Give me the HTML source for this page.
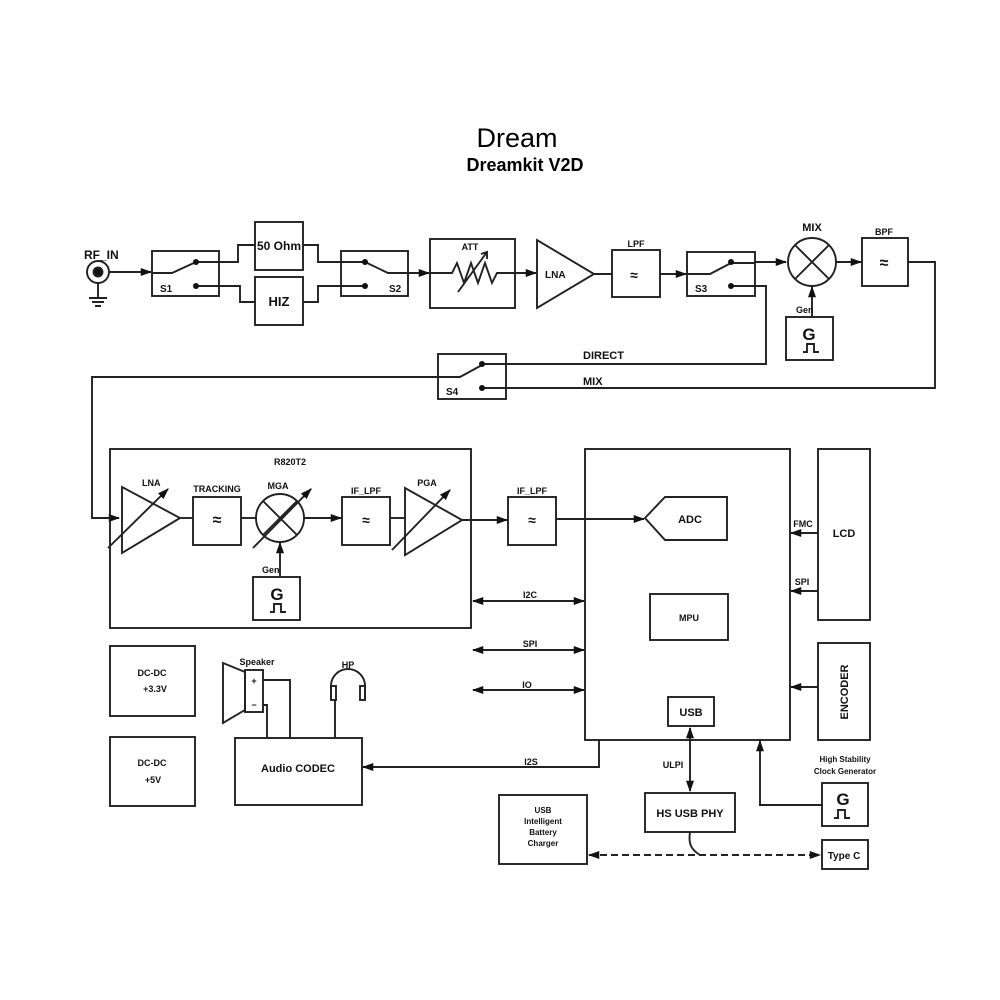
<!DOCTYPE html>
<html><head><meta charset="utf-8"><style>body{margin:0;background:#fff}svg{display:block}</style></head><body>
<svg width="1000" height="1000" viewBox="0 0 1000 1000" xmlns="http://www.w3.org/2000/svg" font-family="Liberation Sans, Arial, sans-serif">
<defs><marker id="a" viewBox="0 0 10 10" refX="9" refY="5" markerWidth="6" markerHeight="6" orient="auto-start-reverse"><path d="M0,1.5 L10,5 L0,8.5z" fill="#111"/></marker></defs>
<rect width="1000" height="1000" fill="#fff"/>
<text x="517" y="147" font-size="27" text-anchor="middle">Dream</text>
<text x="525" y="171" font-size="18" font-weight="bold" text-anchor="middle">Dreamkit V2D</text>
<g stroke="#222" stroke-width="1.9" fill="none">
<circle cx="98" cy="272" r="11"/><circle cx="98" cy="272" r="4.5" fill="#111"/>
<path d="M98,283V298M89,298H107M92,302H104M95,306H101"/>
<path d="M109,272H151" marker-end="url(#a)"/>
<rect x="152" y="251" width="67" height="45"/>
<path d="M152,273H172L196,262M196,262H219M196,286H219"/>
<path d="M219,262H238V245H255M219,286H240V302H255"/>
<rect x="255" y="222" width="48" height="48"/><rect x="255" y="277" width="48" height="48"/>
<path d="M303,245H318V262H341M303,302H318V286H341"/>
<rect x="341" y="251" width="67" height="45"/>
<path d="M341,262H365L388,273H408M341,286H365"/>
<path d="M408,273H429" marker-end="url(#a)"/>
<rect x="430" y="239" width="85" height="69"/>
<path d="M430,273H452L457,263L464,283L471,263L478,283L485,263L492,283L497,273H515M458,292L487,252M481,254L487,252L487,259"/>
<path d="M515,273H536" marker-end="url(#a)"/>
<path d="M537,240L537,308L594,274Z"/>
<path d="M594,274H612"/>
<rect x="612" y="250" width="48" height="47"/>
<path d="M660,274H686" marker-end="url(#a)"/>
<rect x="687" y="252" width="68" height="44"/>
<path d="M687,274H710L731,263M731,263H755M731,286H755"/>
<path d="M755,262H786" marker-end="url(#a)"/>
<circle cx="812" cy="262" r="24"/><path d="M795,245L829,279M829,245L795,279"/>
<path d="M836,262H861" marker-end="url(#a)"/>
<rect x="862" y="238" width="46" height="48"/>
<path d="M908,262H935V388H482"/>
<path d="M755,286H766V364H482"/>
<rect x="786" y="317" width="47" height="43"/>
<path d="M812,317V287" marker-end="url(#a)"/>
<path d="M803,352H807V344H814V352H819"/>
<rect x="438" y="354" width="68" height="45"/>
<path d="M482,364H506M482,388H506M438,377H460L482,365"/>
<path d="M438,377H92V518H119" marker-end="url(#a)"/>
<rect x="110" y="449" width="361" height="179"/>
<path d="M122,487L122,553L180,518Z"/>
<path d="M108,548L168,489" marker-end="url(#a)"/>
<path d="M180,518H193"/>
<rect x="193" y="497" width="48" height="48"/>
<path d="M241,518H256"/>
<circle cx="280" cy="518" r="24"/><path d="M263,501L297,535M297,501L263,535"/>
<path d="M253,548L311,489" marker-end="url(#a)"/>
<rect x="253" y="577" width="47" height="43"/>
<path d="M280,577V543" marker-end="url(#a)"/>
<path d="M270,612H274V604H281V612H286"/>
<path d="M304,518H341" marker-end="url(#a)"/>
<rect x="342" y="497" width="48" height="48"/>
<path d="M390,518H405"/>
<path d="M405,488L405,555L462,520Z"/>
<path d="M392,550L450,490" marker-end="url(#a)"/>
<path d="M462,520H507" marker-end="url(#a)"/>
<rect x="508" y="497" width="48" height="48"/>
<path d="M556,519H644" marker-end="url(#a)"/>
<rect x="585" y="449" width="205" height="291"/>
<path d="M645,518L665,497H727V540H665Z"/>
<rect x="650" y="594" width="78" height="46"/>
<rect x="668" y="697" width="46" height="29"/>
<rect x="818" y="449" width="52" height="171"/>
<path d="M818,533H791" marker-end="url(#a)"/>
<path d="M818,591H791" marker-end="url(#a)"/>
<rect x="818" y="643" width="52" height="97"/>
<path d="M818,687H791" marker-end="url(#a)"/>
<path d="M473,601H584" marker-start="url(#a)" marker-end="url(#a)"/>
<path d="M473,650H584" marker-start="url(#a)" marker-end="url(#a)"/>
<path d="M473,690H584" marker-start="url(#a)" marker-end="url(#a)"/>
<path d="M599,740V767H363" marker-end="url(#a)"/>
<rect x="235" y="738" width="127" height="67"/>
<rect x="110" y="646" width="85" height="70"/>
<rect x="110" y="737" width="85" height="69"/>
<polygon points="223,663 245,672 245,710 223,723"/>
<rect x="245" y="670" width="18" height="42"/>
<path d="M263,680H290V738M263,705H267V738"/>
<path d="M335,738V700M331,700V686A17,17 0 0 1 365,686V700"/>
<rect x="331" y="686" width="5" height="14"/><rect x="360" y="686" width="5" height="14"/>
<path d="M690,728V791" marker-start="url(#a)" marker-end="url(#a)"/>
<rect x="645" y="793" width="90" height="39"/>
<path d="M822,805H760V741" marker-end="url(#a)"/>
<rect x="822" y="783" width="46" height="43"/>
<path d="M834,818H838V810H845V818H850"/>
<rect x="499" y="795" width="88" height="69"/>
<rect x="822" y="840" width="46" height="29"/>
<path d="M589,855H820" stroke-dasharray="7,4" marker-start="url(#a)" marker-end="url(#a)"/>
<path d="M690,832C688,845 692,850 700,855"/>
</g>
<g fill="#111" stroke="none">
<circle cx="196" cy="262" r="3"/><circle cx="196" cy="286" r="3"/>
<circle cx="365" cy="262" r="3"/><circle cx="365" cy="286" r="3"/>
<circle cx="731" cy="262" r="3"/><circle cx="731" cy="286" r="3"/>
<circle cx="482" cy="364" r="3"/><circle cx="482" cy="388" r="3"/>
</g>
<g font-size="10" fill="#111" font-weight="bold">
<text x="84" y="259" font-size="12">RF_IN</text>
<text x="160" y="292">S1</text>
<text x="389" y="292">S2</text>
<text x="695" y="292">S3</text>
<text x="446" y="395">S4</text>
<text x="279" y="250" font-size="12" text-anchor="middle">50 Ohm</text>
<text x="279" y="306" font-size="13" text-anchor="middle">HIZ</text>
<text x="470" y="250" font-size="9" text-anchor="middle">ATT</text>
<text x="545" y="278">LNA</text>
<text x="636" y="247" font-size="9" text-anchor="middle">LPF</text>
<text x="812" y="231" font-size="11" text-anchor="middle">MIX</text>
<text x="884" y="235" font-size="9" text-anchor="middle">BPF</text>
<text x="796" y="313" font-size="9">Gen</text>
<text x="809" y="340" font-size="17" text-anchor="middle">G</text>
<text x="583" y="359" font-size="11">DIRECT</text>
<text x="583" y="385" font-size="11">MIX</text>
<text x="290" y="465" font-size="9" text-anchor="middle">R820T2</text>
<text x="142" y="486" font-size="9">LNA</text>
<text x="217" y="492" font-size="9" text-anchor="middle">TRACKING</text>
<text x="278" y="489" font-size="9" text-anchor="middle">MGA</text>
<text x="262" y="573" font-size="9">Gen</text>
<text x="277" y="600" font-size="17" text-anchor="middle">G</text>
<text x="366" y="494" font-size="9" text-anchor="middle">IF_LPF</text>
<text x="427" y="486" font-size="9" text-anchor="middle">PGA</text>
<text x="532" y="494" font-size="9" text-anchor="middle">IF_LPF</text>
<text x="690" y="523" font-size="11" text-anchor="middle">ADC</text>
<text x="689" y="621" font-size="9" text-anchor="middle">MPU</text>
<text x="691" y="716" font-size="11" text-anchor="middle">USB</text>
<text x="844" y="537" font-size="11" text-anchor="middle">LCD</text>
<text x="803" y="527" font-size="9" text-anchor="middle">FMC</text>
<text x="802" y="585" font-size="9" text-anchor="middle">SPI</text>
<text x="848" y="692" font-size="11" text-anchor="middle" transform="rotate(-90 848 692)">ENCODER</text>
<text x="530" y="598" font-size="9" text-anchor="middle">I2C</text>
<text x="530" y="647" font-size="9" text-anchor="middle">SPI</text>
<text x="527" y="688" font-size="9" text-anchor="middle">IO</text>
<text x="531" y="765" font-size="9" text-anchor="middle">I2S</text>
<text x="673" y="768" font-size="9" text-anchor="middle">ULPI</text>
<text x="690" y="817" font-size="11" text-anchor="middle">HS USB PHY</text>
<text x="845" y="762" font-size="8" text-anchor="middle">High Stability</text>
<text x="845" y="774" font-size="8" text-anchor="middle">Clock Generator</text>
<text x="843" y="805" font-size="17" text-anchor="middle">G</text>
<text x="844" y="859" font-size="10" text-anchor="middle">Type C</text>
<text x="543" y="813" font-size="8" text-anchor="middle">USB</text>
<text x="543" y="824" font-size="8" text-anchor="middle">Intelligent</text>
<text x="543" y="835" font-size="8" text-anchor="middle">Battery</text>
<text x="543" y="846" font-size="8" text-anchor="middle">Charger</text>
<text x="298" y="772" font-size="11" text-anchor="middle">Audio CODEC</text>
<text x="152" y="676" font-size="9" text-anchor="middle">DC-DC</text>
<text x="155" y="692" font-size="9" text-anchor="middle">+3.3V</text>
<text x="152" y="766" font-size="9" text-anchor="middle">DC-DC</text>
<text x="153" y="783" font-size="9" text-anchor="middle">+5V</text>
<text x="257" y="665" font-size="9" text-anchor="middle">Speaker</text>
<text x="348" y="668" font-size="9" text-anchor="middle">HP</text>
<text x="254" y="684" font-size="9" text-anchor="middle">+</text>
<text x="254" y="708" font-size="9" text-anchor="middle">−</text>
<text x="634" y="280" font-size="14" text-anchor="middle">≈</text>
<text x="217" y="525" font-size="16" text-anchor="middle">≈</text>
<text x="366" y="525" font-size="14" text-anchor="middle">≈</text>
<text x="532" y="525" font-size="14" text-anchor="middle">≈</text>
<text x="884" y="268" font-size="16" text-anchor="middle">≈</text>
</g>
</svg>
</body></html>
